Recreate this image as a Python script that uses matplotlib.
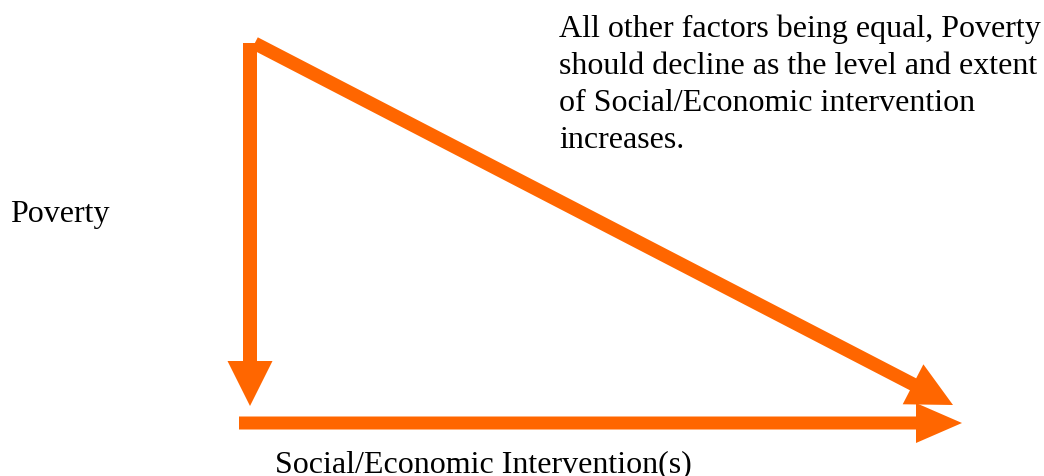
import matplotlib.pyplot as plt

# Diagram content
x_label = 'Social/Economic Intervention(s)'
y_label = 'Poverty'
note_lines = ['All other factors being equal, Poverty',
              'should decline as the level and extent',
              'of Social/Economic intervention',
              'increases.']

orange = '#FF6600'

fig = plt.figure(figsize=(10.44, 4.77), dpi=100)
ax = fig.add_axes([0, 0, 1, 1])
ax.set_xlim(0, 1044)
ax.set_ylim(477, 0)
ax.axis('off')

# arrows (pixel coordinates, y downward)
ax.arrow(250, 44, 0, 407 - 44, width=14, head_width=45, head_length=45,
         length_includes_head=True, color=orange, lw=0)
ax.arrow(239, 424, 962 - 239, 0, width=13, head_width=40, head_length=46,
         length_includes_head=True, color=orange, lw=0)
ax.arrow(254.7, 44.3, 953 - 254.7, 406 - 44.3, width=13.5, head_width=45, head_length=45,
         length_includes_head=True, color=orange, lw=0)

font = dict(family='Liberation Serif', fontsize=23, color='black')
ax.text(10, 222, y_label, va='baseline', ha='left', **font)
ax.text(275, 472, x_label, va='baseline', ha='left', **font)
for i, line in enumerate(note_lines):
    ax.text(559, 37 + i * 37, line, va='baseline', ha='left', **font)

fig.savefig('out.png', dpi=100)
